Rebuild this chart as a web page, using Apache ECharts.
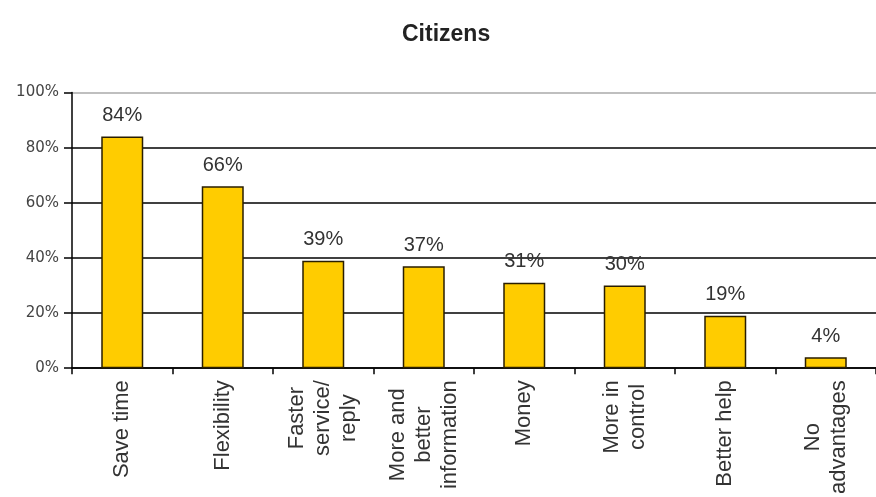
<!DOCTYPE html>
<html>
<head>
<meta charset="utf-8">
<script src="https://cdn.jsdelivr.net/npm/echarts@6/dist/echarts.min.js"></script>
<style>
html,body{margin:0;padding:0;background:#fff;}
#chart{width:876px;height:497px;}
</style>
</head>
<body>
<div id="chart"></div>
<script>
const categories = [
  'Save time',
  'Flexibility',
  'Faster\nservice/\nreply',
  'More and\nbetter\ninformation',
  'Money',
  'More in\ncontrol',
  'Better help',
  'No\nadvantages'
];
const values = [84, 66, 39, 37, 31, 30, 19, 4];
const yTicks = [0, 20, 40, 60, 80, 100];
const titleText = 'Citizens';

const font = "'Liberation Sans', Arial, sans-serif";
const chart = echarts.init(document.getElementById('chart'), null, {renderer: 'canvas'});
chart.setOption({
  animation: false,
  backgroundColor: '#ffffff',
  title: {
    text: titleText,
    left: 397,
    top: 18,
    textStyle: {fontFamily: font, fontSize: 23, fontWeight: 'bold', color: '#222'}
  },
  grid: {left: 72, top: 92.5, width: 811, height: 277, containLabel: false},
  xAxis: {
    type: 'category',
    data: categories,
    axisLine: {lineStyle: {color: '#000', width: 1.5}},
    axisTick: {show: true, length: 6, lineStyle: {color: '#000', width: 1.5}},
    axisLabel: {
      rotate: 90,
      margin: 12,
      interval: 0,
      formatter: function (v) {
        return v.split('\n').map(s => '{c|' + s + '}').join('\n');
      },
      rich: {
        c: {align: 'center', fontFamily: font, fontSize: 22, lineHeight: 26, color: '#333'}
      }
    }
  },
  yAxis: {
    type: 'value',
    min: yTicks[0],
    max: yTicks[yTicks.length - 1],
    interval: 20,
    axisLine: {show: true, lineStyle: {color: '#000', width: 1.5}},
    axisTick: {show: true, length: 8, lineStyle: {color: '#000', width: 1.5}},
    axisLabel: {
      margin: 13,
      formatter: v => v + '%',
      fontFamily: "'DejaVu Sans', sans-serif",
      fontSize: 15,
      color: '#444'
    },
    splitLine: {
      show: true,
      lineStyle: {color: ['#000', '#000', '#000', '#000', '#000', '#aaa'], width: 1.5}
    }
  },
  series: [{
    type: 'bar',
    data: values,
    barWidth: 42,
    itemStyle: {color: '#FFCC00', borderColor: '#2a1e00', borderWidth: 1.5},
    label: {
      show: true,
      position: 'top',
      distance: 11,
      formatter: p => p.value + '%',
      fontFamily: font,
      fontSize: 20,
      color: '#333'
    }
  }]
});
</script>
</body>
</html>
